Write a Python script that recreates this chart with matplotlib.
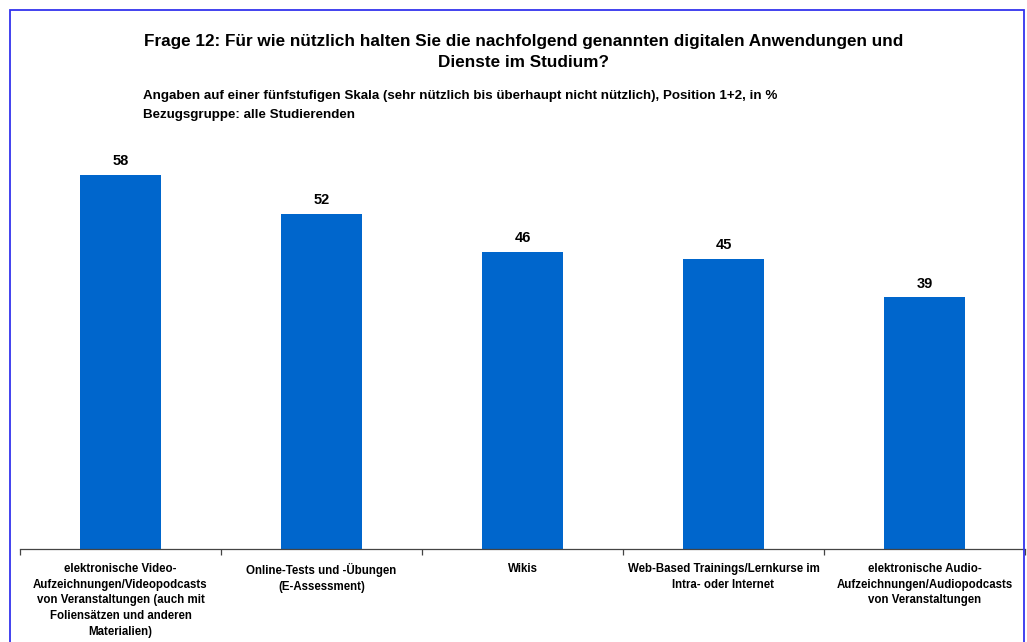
import matplotlib
matplotlib.use("Agg")
import matplotlib.pyplot as plt
from matplotlib.patches import Rectangle

plt.rcParams['font.family'] = ['Liberation Sans', 'DejaVu Sans']

categories = [
    "elektronische Video-\nAufzeichnungen/Videopodcasts\nvon Veranstaltungen (auch mit\nFoliensätzen und anderen\nMaterialien)",
    "Online-Tests und -Übungen\n(E-Assessment)",
    "Wikis",
    "Web-Based Trainings/Lernkurse im\nIntra- oder Internet",
    "elektronische Audio-\nAufzeichnungen/Audiopodcasts\nvon Veranstaltungen",
]
values = [58, 52, 46, 45, 39]

title = "Frage 12: Für wie nützlich halten Sie die nachfolgend genannten digitalen Anwendungen und\nDienste im Studium?"
subtitle1 = "Angaben auf einer fünfstufigen Skala (sehr nützlich bis überhaupt nicht nützlich), Position 1+2, in %"
subtitle2 = "Bezugsgruppe: alle Studierenden"

W, H = 1027, 642
fig = plt.figure(figsize=(W / 100, H / 100), dpi=100)

# blue frame
fig.patches.append(Rectangle((9.5 / W, -0.05), (1024 - 9.5) / W, (H - 9.5) / H + 0.05,
                             transform=fig.transFigure, fill=False,
                             edgecolor='#3333EE', linewidth=1.3))

ax_bottom = (H - 549) / H
ax_top = (H - 30) / H
ax = fig.add_axes([20 / W, ax_bottom, (1025 - 20) / W, ax_top - ax_bottom])

x = list(range(len(values)))
ax.bar(x, values, width=0.405, color='#0066CC', zorder=2)
ax.set_xlim(-0.5, len(values) - 0.5)
ax.set_ylim(0, (549 - 30) / 6.45)

for xi, v in zip(x, values):
    ax.annotate(str(v), (xi, v), xytext=(0, 5), textcoords='offset points',
                ha='center', va='bottom', fontsize=10.5, fontweight='bold')

for s in ['top', 'right', 'left']:
    ax.spines[s].set_visible(False)
ax.spines['bottom'].set_color('#444444')
ax.spines['bottom'].set_linewidth(0.9)
ax.set_yticks([])
ax.set_xticks([i - 0.5 for i in range(len(values) + 1)])
ax.set_xticklabels([])
ax.tick_params(axis='x', direction='out', length=4, color='#444444', width=0.9)

for xi, c in zip(x, categories):
    ax.annotate(c, (xi, 0), xytext=(0, -10), textcoords='offset points',
                ha='center', va='top', fontsize=8.3, fontweight='bold',
                linespacing=1.42)

fig.text(524 / W, 1 - 34 / H, title, ha='center', va='top', fontsize=12.3,
         fontweight='bold', linespacing=1.5)
fig.text(143 / W, 1 - 96 / H, subtitle1, ha='left', va='center', fontsize=9.6,
         fontweight='bold')
fig.text(143 / W, 1 - 115 / H, subtitle2, ha='left', va='center', fontsize=9.6,
         fontweight='bold')

fig.savefig('out.png', dpi=100)
